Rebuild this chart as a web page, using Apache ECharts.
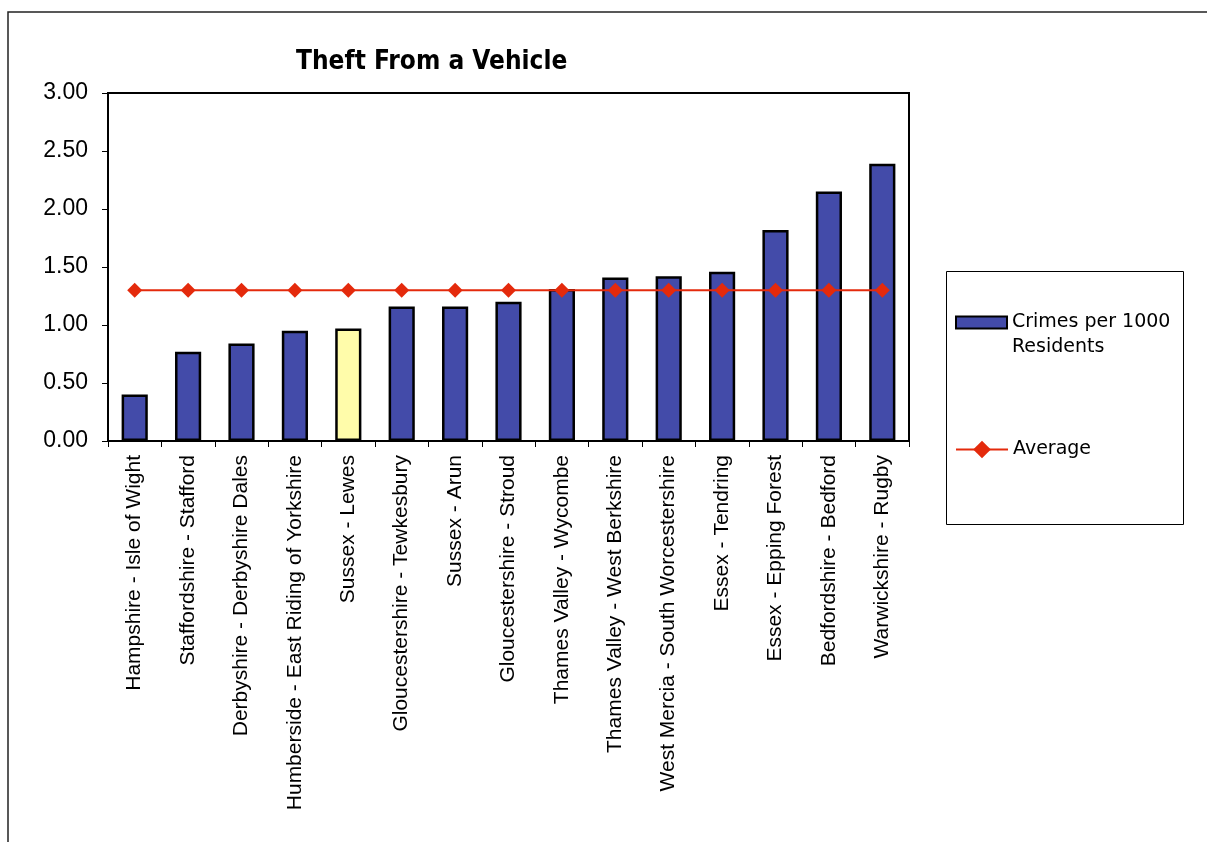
<!DOCTYPE html>
<html>
<head>
<meta charset="utf-8">
<title>Theft From a Vehicle</title>
<script src="https://cdn.jsdelivr.net/npm/echarts@6/dist/echarts.min.js"></script>
<style>
  html, body { margin: 0; padding: 0; background: #fff; }
  #chart { width: 1207px; height: 842px; }
</style>
</head>
<body>
<div id="chart"></div>
<script>
// data
const areas = [
  'Hampshire - Isle of Wight',
  'Staffordshire - Stafford',
  'Derbyshire - Derbyshire Dales',
  'Humberside - East Riding of Yorkshire',
  'Sussex - Lewes',
  'Gloucestershire - Tewkesbury',
  'Sussex - Arun',
  'Gloucestershire - Stroud',
  'Thames Valley - Wycombe',
  'Thames Valley - West Berkshire',
  'West Mercia - South Worcestershire',
  'Essex - Tendring',
  'Essex - Epping Forest',
  'Bedfordshire - Bedford',
  'Warwickshire - Rugby'
]
const crimesPer1000 = [0.40, 0.77, 0.84, 0.95, 0.97, 1.16, 1.16, 1.20, 1.31, 1.41, 1.42, 1.46, 1.82, 2.15, 2.39]
const averageValue = [1.30, 1.30, 1.30, 1.30, 1.30, 1.30, 1.30, 1.30, 1.30, 1.30, 1.30, 1.30, 1.30, 1.30, 1.30]
const highlightArea = 'Sussex - Lewes'

const barColor = '#434BA9'
const highlightColor = '#FFFCAA'
const lineColor = '#E42A0C'
const legendFont = 'DejaVu Sans'

const chart = echarts.init(document.getElementById('chart'))

const option = {
  animation: false,
  backgroundColor: '#fff',
  title: {
    text: 'Theft From a Vehicle',
    left: 291,
    top: 44,
    textStyle: {
      fontFamily: 'DejaVu Sans Condensed',
      fontWeight: 'bold',
      fontSize: 26,
      color: '#000',
    },
  },
  graphic: [
    // outer chart-area frame (runs off the right and bottom edges)
    {
      type: 'polyline',
      shape: { points: [[8, 850], [8, 12], [1215, 12]] },
      style: { stroke: '#222', lineWidth: 1.5, fill: null },
    },
    // legend box
    {
      type: 'rect',
      shape: { x: 946.5, y: 271.5, width: 237, height: 253 },
      style: { stroke: '#000', lineWidth: 1, fill: '#fff' },
      z: 0,
    },
    // second line of the bar legend label
    {
      type: 'text',
      left: 1012,
      top: 338,
      style: { text: 'Residents', font: '19px "' + legendFont + '"', fill: '#000' },
      z: 5,
    },
  ],
  legend: [
    {
      data: [{ name: 'Crimes per 1000 Residents', icon: 'rect' }],
      left: 950,
      top: 308,
      itemWidth: 51,
      itemHeight: 12,
      formatter: () => 'Crimes per 1000',
      textStyle: { fontFamily: legendFont, fontSize: 19, color: '#000' },
      z: 5,
    },
    {
      data: ['Average'],
      left: 950,
      top: 435,
      itemWidth: 52,
      itemHeight: 22,
      formatter: () => 'Average',
      textStyle: { fontFamily: legendFont, fontSize: 19, color: '#000' },
      z: 5,
    },
  ],
  grid: {
    left: 108,
    top: 93,
    right: 298,
    bottom: 401,
    show: true,
    borderColor: '#000',
    borderWidth: 2,
    backgroundColor: 'transparent',
  },
  xAxis: {
    type: 'category',
    data: areas,
    axisLine: { show: true, lineStyle: { color: '#000', width: 2 } },
    axisTick: { show: true, length: 6, lineStyle: { color: '#000' } },
    axisLabel: {
      rotate: 90,
      interval: 0,
      margin: 14,
      fontFamily: 'Liberation Sans',
      fontSize: 21,
      color: '#000',
    },
    splitLine: { show: false },
  },
  yAxis: {
    type: 'value',
    min: 0,
    max: 3,
    interval: 0.5,
    axisLine: { show: true, lineStyle: { color: '#000', width: 2 } },
    axisTick: { show: true, length: 6, lineStyle: { color: '#000' } },
    axisLabel: {
      margin: 20,
      fontFamily: 'Liberation Sans',
      fontSize: 23,
      color: '#000',
      formatter: (v) => v.toFixed(2),
    },
    splitLine: { show: false },
  },
  series: [
    {
      name: 'Crimes per 1000 Residents',
      type: 'bar',
      barWidth: '49%',
      data: crimesPer1000.map((v, i) => ({
        value: v,
        itemStyle: { color: areas[i] === highlightArea ? highlightColor : barColor },
      })),
      itemStyle: { color: barColor, borderColor: '#000', borderWidth: 2.5 },
      z: 2,
    },
    {
      name: 'Average',
      type: 'line',
      data: averageValue,
      symbol: 'diamond',
      symbolSize: 15,
      lineStyle: { color: lineColor, width: 2 },
      itemStyle: { color: lineColor },
      z: 3,
    },
  ],
}

chart.setOption(option)
</script>
</body>
</html>
